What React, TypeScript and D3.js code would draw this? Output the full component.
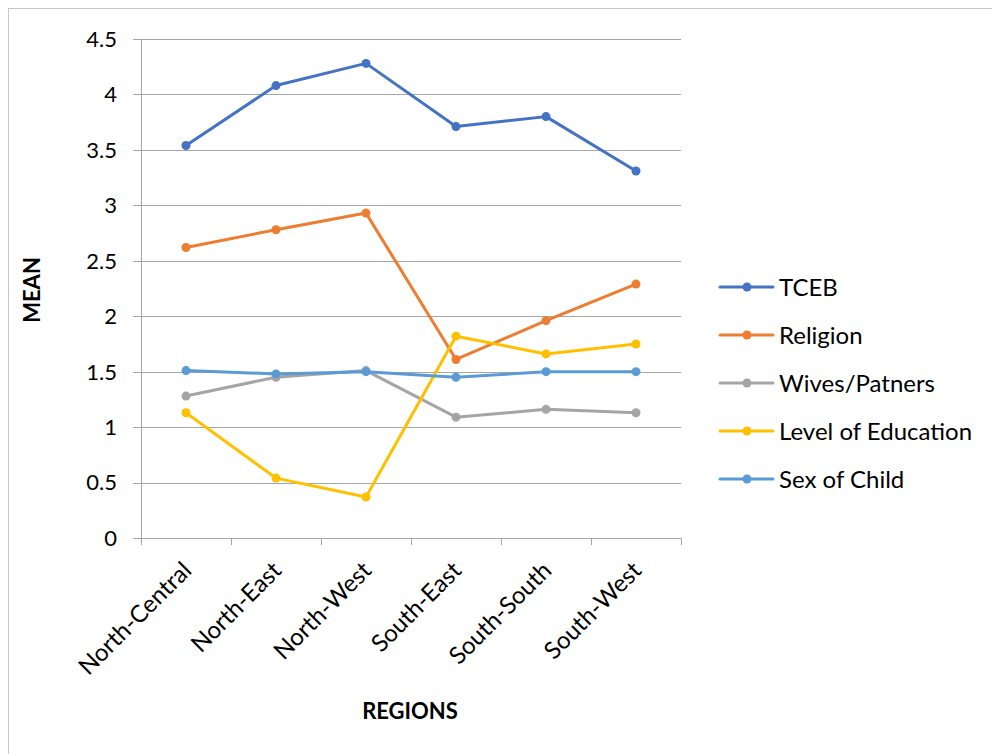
import React from "react";
import * as d3 from "d3";

const categories = ["North-Central", "North-East", "North-West", "South-East", "South-South", "South-West"];
const seriesNames = ["TCEB", "Religion", "Wives/Patners", "Level of Education", "Sex of Child"];
const tceb = [3.54, 4.08, 4.28, 3.71, 3.8, 3.31];
const religion = [2.62, 2.78, 2.93, 1.61, 1.96, 2.29];
const wives = [1.28, 1.45, 1.51, 1.09, 1.16, 1.13];
const education = [1.13, 0.54, 0.37, 1.82, 1.66, 1.75];
const sexOfChild = [1.51, 1.48, 1.5, 1.45, 1.5, 1.5];
const colors = ["#4472C4", "#ED7D31", "#A5A5A5", "#FFC000", "#5B9BD5"];
const yTicks = [0, 0.5, 1, 1.5, 2, 2.5, 3, 3.5, 4, 4.5];

const allSeries = [tceb, religion, wives, education, sexOfChild];

export default function App() {
  const W = 992, H = 754;
  const left = 141, right = 681, top = 39, bottom = 538;
  const x = d3.scaleBand<string>().domain(categories).range([left, right]);
  const cx = (c: string) => (x(c) as number) + x.bandwidth() / 2;
  const y = d3.scaleLinear().domain([0, 4.5]).range([bottom, top]);
  const line = d3.line<number>().x((_, i) => cx(categories[i])).y((d) => y(d));
  const font = "Lato, 'Open Sans', sans-serif";
  const grid = "#a6a6a6";
  const boundaries = [...categories.map((c) => x(c) as number), right];

  return (
    <svg width={W} height={H} style={{ position: "absolute", left: 0, top: 0 }} fontFamily={font}>
      <rect x={0} y={0} width={W} height={H} fill="#fff" />
      <rect x={8.5} y={8.5} width={W + 20} height={H + 20} fill="none" stroke="#c8c8c8" strokeWidth={1} />
      {yTicks.map((t) => (
        <g key={t}>
          <line x1={133} x2={right} y1={Math.round(y(t)) + 0.5} y2={Math.round(y(t)) + 0.5} stroke={grid} strokeWidth={1} />
          <text x={117} y={y(t)} dy="0.36em" textAnchor="end" fontSize={22} fill="#000">
            {String(t)}
          </text>
        </g>
      ))}
      <line x1={left + 0.5} x2={left + 0.5} y1={top} y2={bottom} stroke={grid} strokeWidth={1} />
      {boundaries.map((b, i) => (
        <line key={i} x1={Math.round(b) + 0.5} x2={Math.round(b) + 0.5} y1={bottom} y2={bottom + 7} stroke={grid} strokeWidth={1} />
      ))}
      {categories.map((c) => (
        <text
          key={c}
          transform={`translate(${cx(c) + 1},${566}) rotate(-45)`}
          dy="0.35em"
          textAnchor="end"
          fontSize={24}
          fill="#000"
        >
          {c}
        </text>
      ))}
      <text x={410} y={711} dy="0.36em" textAnchor="middle" fontSize={22} fontWeight="bold" fill="#000">
        REGIONS
      </text>
      <text transform={`translate(32,290) rotate(-90)`} dy="0.36em" textAnchor="middle" fontSize={22} fontWeight="bold" fill="#000">
        MEAN
      </text>
      {allSeries.map((s, si) => (
        <g key={si}>
          <path d={line(s) as string} fill="none" stroke={colors[si]} strokeWidth={3} strokeLinejoin="round" strokeLinecap="round" />
          {s.map((v, i) => (
            <circle key={i} cx={cx(categories[i])} cy={y(v)} r={4.5} fill={colors[si]} />
          ))}
        </g>
      ))}
      {seriesNames.map((n, i) => {
        const ly = 287 + i * 48;
        return (
          <g key={n}>
            <line x1={720} x2={773} y1={ly} y2={ly} stroke={colors[i]} strokeWidth={3} strokeLinecap="round" />
            <circle cx={747} cy={ly} r={4.5} fill={colors[i]} />
            <text x={779} y={ly} dy="0.36em" fontSize={24} fill="#000">
              {n}
            </text>
          </g>
        );
      })}
    </svg>
  );
}
